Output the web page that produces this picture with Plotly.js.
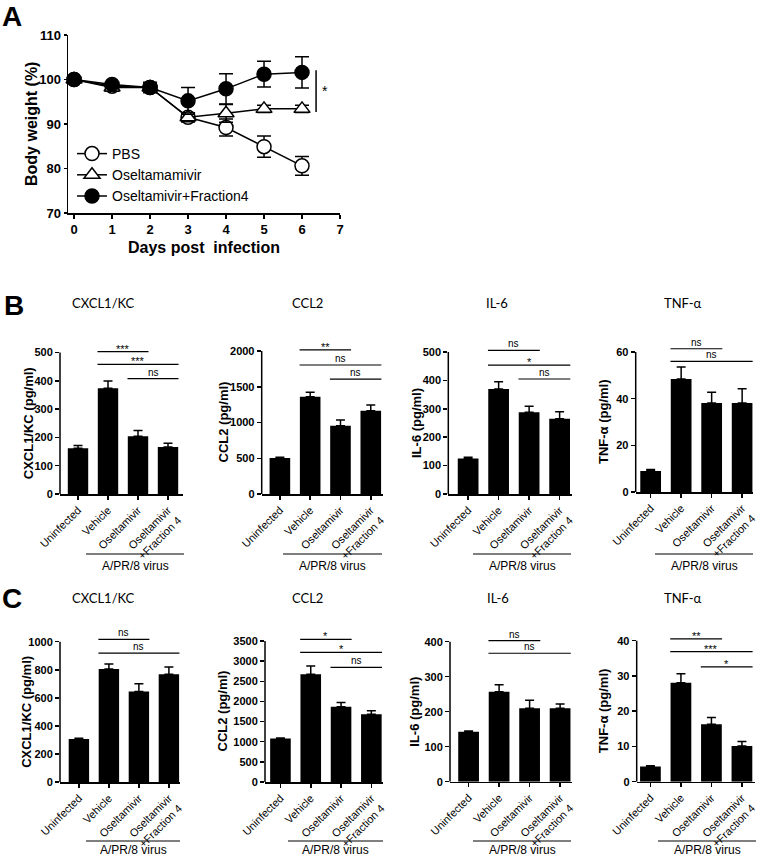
<!DOCTYPE html>
<html><head><meta charset="utf-8">
<script src="https://cdn.plot.ly/plotly-3.0.1.min.js"></script>
<style>body{margin:0;background:#fff}#chart{width:766px;height:859px}</style>
</head><body><div id="chart"></div>
<script>
// ---------- Panel A data ----------
const days = [0, 1, 2, 3, 4, 5, 6];
const pbsWeight = [100, 98.5, 98.2, 91.5, 89.2, 84.9, 80.6];
const pbsErr    = [0.5, 0.8, 0.8, 1.0, 1.9, 2.4, 2.1];
const oselWeight = [100, 98.2, 98.2, 91.5, 92.4, 93.4, 93.4];
const oselErr    = [0.5, 0.8, 0.8, 1.0, 2.0, 0.8, 0.8];
const f4Weight = [100, 98.9, 98.2, 95.2, 97.9, 101.2, 101.6];
const f4Err    = [0.5, 0.6, 1.2, 3.0, 3.4, 2.9, 3.5];
const seriesNames = ["PBS", "Oseltamamivir", "Oseltamivir+Fraction4"];
const sigA = [6.37, 92.7, 102.1, "*"];   // x, y from, y to, label

// ---------- Panels B / C data ----------
const groups = ["Uninfected", "Vehicle", "Oseltamivir", "Oseltamivir<br>+Fraction 4"];
const cytokines = ["CXCL1/KC", "CCL2", "IL-6", "TNF-α"];
const yTitles = ["CXCL1/KC (pg/ml)", "CCL2 (pg/ml)", "IL-6 (pg/ml)", "TNF-α (pg/ml)"];
const groupLabel = "A/PR/8 virus";

const bCxcl1 = [162, 374, 204, 166];   const bCxcl1Err = [9, 25, 20, 13];
const bCcl2  = [505, 1361, 955, 1165]; const bCcl2Err  = [10, 61, 80, 79];
const bIl6   = [125, 370, 288, 265];   const bIl6Err   = [4, 25, 21, 25];
const bTnf   = [9, 48.4, 38.1, 38.1];  const bTnfErr   = [0.6, 5.2, 4.6, 6.2];

const cCxcl1 = [306, 806, 645, 768];   const cCxcl1Err = [5, 35, 56, 52];
const cCcl2  = [1081, 2673, 1865, 1683]; const cCcl2Err = [10, 206, 107, 83];
const cIl6   = [143, 257, 210, 210];   const cIl6Err   = [2, 20, 23, 12];
const cTnf   = [4.3, 28.1, 16.3, 10.1]; const cTnfErr  = [0.2, 2.5, 1.9, 1.3];

// axis maxima and tick steps
const bTickMax = [500, 2000, 500, 60];  const bTickStep = [100, 500, 100, 20];
const cTickMax = [1000, 3500, 400, 40]; const cTickStep = [200, 500, 100, 10];

// significance brackets: [from group, to group, y, label]
const sigBCxcl1 = [[1, 2, 503, "***"], [1, 3, 458, "***"], [2, 3, 408, "ns"]];
const sigBCcl2  = [[1, 2, 2015, "**"], [1, 3, 1804, "ns"], [2, 3, 1608, "ns"]];
const sigBIl6   = [[1, 2, 506, "ns"], [1, 3, 454, "*"], [2, 3, 405, "ns"]];
const sigBTnf   = [[1, 2, 61.4, "ns"], [1, 3, 56, "ns"]];
const sigCCxcl1 = [[1, 2, 1017, "ns"], [1, 3, 919, "ns"]];
const sigCCcl2  = [[1, 2, 3540, "*"], [1, 3, 3218, "*"], [2, 3, 2846, "ns"]];
const sigCIl6   = [[1, 2, 403, "ns"], [1, 3, 367, "ns"]];
const sigCTnf   = [[1, 2, 40.5, "**"], [1, 3, 36.9, "***"], [2, 3, 32.6, "*"]];

// ---------- layout helpers ----------
const W = 766, H = 859;
const px = v => v / W, py = v => 1 - v / H;
const ARIAL = "Liberation Sans, Arial, sans-serif";
const TITLEFONT = "Lato, Open Sans, sans-serif";

const data = [], shapes = [], annotations = [];
const layout = {
  width: W, height: H, margin: {l: 0, r: 0, t: 0, b: 0},
  paper_bgcolor: "#fff", plot_bgcolor: "rgba(0,0,0,0)",
  font: {family: ARIAL, color: "#000"},
  showlegend: true,
  legend: {x: px(72), y: py(138), xanchor: "left", yanchor: "top",
           bgcolor: "rgba(0,0,0,0)", font: {size: 14, family: ARIAL, color: "#000"},
           tracegroupgap: 0, itemwidth: 30},
  shapes, annotations
};
function vTitle(text, x, y, size) {
  annotations.push({xref: "paper", yref: "paper", x: px(x), y: py(y), text: text, textangle: -90,
                    showarrow: false, xanchor: "center", yanchor: "middle",
                    font: {size: size, family: ARIAL, weight: 700, color: "#000"}});
}

// ---------- Panel A ----------
const aY = [pbsWeight, oselWeight, f4Weight];
const aE = [pbsErr, oselErr, f4Err];
const aSymbols = ["circle", "triangle-up", "circle"];
const aFill = ["#fff", "#fff", "#000"];
for (let i = 0; i < 3; i++) {
  data.push({
    type: "scatter", mode: "lines+markers", x: days, y: aY[i], name: seriesNames[i],
    xaxis: "x", yaxis: "y", cliponaxis: false,
    line: {color: "#000", width: 1.5},
    marker: {symbol: aSymbols[i], size: 14, color: aFill[i], line: {color: "#000", width: 1.5}},
    error_y: {type: "data", array: aE[i], symmetric: true, color: "#000", thickness: 1.5, width: 7}
  });
}
layout.xaxis = {
  domain: [px(68), px(340)], anchor: "y", range: [-0.16, 7],
  tickvals: [0, 1, 2, 3, 4, 5, 6, 7], ticks: "outside", ticklen: 4, tickwidth: 1.5, tickcolor: "#000",
  showline: true, linewidth: 1.5, linecolor: "#000", showgrid: false, zeroline: false,
  tickfont: {size: 13, family: ARIAL, weight: 700},
  title: {text: "Days post  infection", font: {size: 16, family: ARIAL, weight: 700}, standoff: 5}
};
layout.yaxis = {
  domain: [py(213), py(35)], anchor: "x", range: [70, 110],
  tickvals: [70, 80, 90, 100, 110], ticks: "outside", ticklen: 3, tickwidth: 1.5, tickcolor: "#000",
  showline: true, linewidth: 1.5, linecolor: "#000", showgrid: false, zeroline: false,
  tickfont: {size: 13, family: ARIAL, weight: 700}
};
vTitle("Body weight (%)", 31, 124, 16);
shapes.push({type: "line", xref: "x", yref: "y", x0: sigA[0], x1: sigA[0], y0: sigA[1], y1: sigA[2],
             line: {color: "#000", width: 1.5}});
annotations.push({xref: "x", yref: "y", x: sigA[0], y: (sigA[1] + sigA[2]) / 2, text: sigA[3],
                  xanchor: "left", xshift: 4, showarrow: false, font: {size: 14, family: ARIAL}});

// ---------- Panels B / C ----------
const panels = [
  {v: bCxcl1, e: bCxcl1Err, sig: sigBCxcl1, max: bTickMax[0], step: bTickStep[0], k: 0},
  {v: bCcl2,  e: bCcl2Err,  sig: sigBCcl2,  max: bTickMax[1], step: bTickStep[1], k: 1},
  {v: bIl6,   e: bIl6Err,   sig: sigBIl6,   max: bTickMax[2], step: bTickStep[2], k: 2},
  {v: bTnf,   e: bTnfErr,   sig: sigBTnf,   max: bTickMax[3], step: bTickStep[3], k: 3},
  {v: cCxcl1, e: cCxcl1Err, sig: sigCCxcl1, max: cTickMax[0], step: cTickStep[0], k: 0},
  {v: cCcl2,  e: cCcl2Err,  sig: sigCCcl2,  max: cTickMax[1], step: cTickStep[1], k: 1},
  {v: cIl6,   e: cIl6Err,   sig: sigCIl6,   max: cTickMax[2], step: cTickStep[2], k: 2},
  {v: cTnf,   e: cTnfErr,   sig: sigCTnf,   max: cTickMax[3], step: cTickStep[3], k: 3}
];
// pixel geometry of each sub-plot (layout only)
const geo = [
  {axL: 60,    sp: 30,   xmin: -0.6,  xmax: 3.5,  top: 352.5, bot: 494,   tx: 103, ty: 303, yt: 28,  gx0: 86,  gx1: 184, gy: 554, gty: 566},
  {axL: 261.7, sp: 30.3, xmin: -0.6,  xmax: 3.4,  top: 351,   bot: 494,   tx: 307, ty: 303, yt: 223, gx0: 283, gx1: 382, gy: 554, gty: 566},
  {axL: 448.3, sp: 30.5, xmin: -0.65, xmax: 3.4,  top: 352,   bot: 494,   tx: 497, ty: 303, yt: 416, gx0: 473, gx1: 571, gy: 554, gty: 566},
  {axL: 635.7, sp: 30.5, xmin: -0.49, xmax: 3.35, top: 352,   bot: 492,   tx: 683, ty: 303, yt: 603, gx0: 655, gx1: 753, gy: 554, gty: 566},
  {axL: 60,    sp: 30,   xmin: -0.63, xmax: 3.37, top: 641.7, bot: 782,   tx: 103, ty: 598, yt: 27,  gx0: 86,  gx1: 180, gy: 841, gty: 850},
  {axL: 265,   sp: 30.3, xmin: -0.51, xmax: 3.37, top: 641,   bot: 782,   tx: 307, ty: 598, yt: 222, gx0: 288, gx1: 383, gy: 841, gty: 850},
  {axL: 450,   sp: 30.5, xmin: -0.61, xmax: 3.39, top: 641.7, bot: 781.7, tx: 498, ty: 598, yt: 415, gx0: 473, gx1: 571, gy: 841, gty: 850},
  {axL: 636.7, sp: 30.5, xmin: -0.45, xmax: 3.43, top: 640.7, bot: 781.7, tx: 683, ty: 598, yt: 603, gx0: 658, gx1: 756, gy: 841, gty: 850}
];
const EXT = 1.2;

panels.forEach((p, i) => {
  const g = geo[i];
  const n = i + 2, xa = "x" + n, ya = "y" + n;
  const axR = g.axL + (g.xmax - g.xmin) * g.sp;
  const topExt = g.bot - (g.bot - g.top) * EXT;
  data.push({
    type: "bar", x: groups, y: p.v, xaxis: xa, yaxis: ya, showlegend: false, width: 0.68,
    marker: {color: "#000", line: {width: 0}},
    error_y: {type: "data", array: p.e, arrayminus: p.e.map(() => 0), symmetric: false,
              color: "#000", thickness: 1.5, width: 4.5}
  });
  const ticks = [];
  for (let t = 0; t <= p.max + 1e-9; t += p.step) ticks.push(t);
  layout["xaxis" + n] = {
    domain: [px(g.axL), px(axR)], anchor: ya, type: "category", range: [g.xmin, g.xmax],
    ticks: "outside", ticklen: 4, tickwidth: 1.5, tickcolor: "#000", tickangle: -45,
    showline: true, linewidth: 1.5, linecolor: "#000", showgrid: false, zeroline: false,
    tickfont: {size: 11, family: ARIAL, color: "#000"}
  };
  layout["yaxis" + n] = {
    domain: [py(g.bot), py(topExt)], anchor: xa, range: [0, p.max * EXT],
    tickvals: ticks, ticks: "outside", ticklen: 4, tickwidth: 1.5, tickcolor: "#000",
    showline: false, showgrid: false, zeroline: false,
    tickfont: {size: 11, family: ARIAL, weight: 700}
  };
  vTitle(yTitles[p.k], g.yt, (g.top + g.bot) / 2, 13);
  // visible y axis line from 0 to top tick
  shapes.push({type: "line", xref: xa + " domain", yref: ya, x0: 0, x1: 0, y0: 0, y1: p.max,
               line: {color: "#000", width: 1.5}});
  // significance brackets
  p.sig.forEach(s => {
    shapes.push({type: "line", xref: xa, yref: ya, x0: s[0] - 0.35, x1: s[1] + 0.35, y0: s[2], y1: s[2],
                 line: {color: "#000", width: 1.2}});
    const star = s[3].indexOf("*") >= 0;
    annotations.push({xref: xa, yref: ya, x: (s[0] + s[1]) / 2, y: s[2], text: s[3], showarrow: false,
                      yanchor: "bottom", yshift: star ? -5 : -1,
                      font: {size: star ? 11 : 10, family: ARIAL, color: "#000"}});
  });
  // cytokine title
  annotations.push({xref: "paper", yref: "paper", x: px(g.tx), y: py(g.ty), text: cytokines[p.k],
                    showarrow: false, xanchor: "center", yanchor: "middle",
                    font: {size: 13, family: TITLEFONT, color: "#000"}});
  // group bracket "A/PR/8 virus"
  shapes.push({type: "line", xref: "paper", yref: "paper", x0: px(g.gx0), x1: px(g.gx1),
               y0: py(g.gy), y1: py(g.gy), line: {color: "#000", width: 1.2}});
  annotations.push({xref: "paper", yref: "paper", x: px((g.gx0 + g.gx1) / 2), y: py(g.gty), text: groupLabel,
                    showarrow: false, xanchor: "center", yanchor: "middle",
                    font: {size: 12, family: ARIAL, color: "#000"}});
});

// panel letters
[["A", 12, 17], ["B", 14, 305], ["C", 12, 598]].forEach(l => {
  annotations.push({xref: "paper", yref: "paper", x: px(l[1]), y: py(l[2]), text: l[0], showarrow: false,
                    xanchor: "center", yanchor: "middle", font: {size: 28, family: ARIAL, weight: 700, color: "#000"}});
});

Plotly.newPlot("chart", data, layout, {staticPlot: true, displayModeBar: false});
</script>
</body></html>
